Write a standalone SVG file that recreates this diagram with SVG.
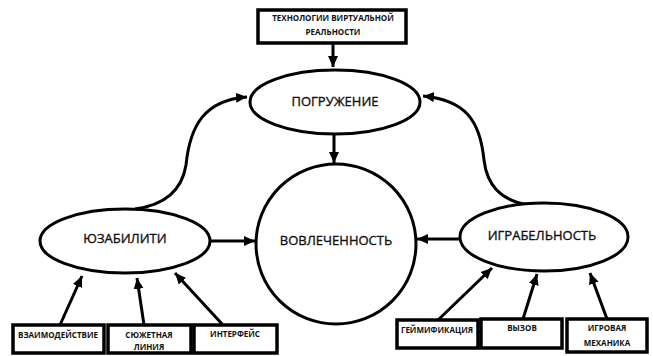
<svg xmlns="http://www.w3.org/2000/svg" width="653" height="356" viewBox="0 0 653 356">
<style>
.n{fill:#fff;stroke:#000;stroke-width:3}
.b{fill:#fff;stroke:#000;stroke-width:3.5}
.t{font-family:"Open Sans","Liberation Sans",sans-serif;font-size:13px;fill:#111;stroke:#111;stroke-width:0.35;text-anchor:middle}
.s{font-family:"Open Sans","Liberation Sans",sans-serif;font-size:8px;font-weight:bold;fill:#111;text-anchor:middle}
.c{fill:none;stroke:#000;stroke-width:3;marker-end:url(#ah)}
</style>
<defs>
<marker id="ah" markerUnits="userSpaceOnUse" markerWidth="12" markerHeight="12" viewBox="0 0 12 12" refX="11" refY="6" orient="auto">
<path d="M0,1 L11,6 L0,11 Z" fill="#000"/>
</marker>
</defs>
<rect width="653" height="356" fill="#fff"/>
<g id="connectors">
<path class="c" d="M333,43 L333,67"/>
<path class="c" d="M334,134 L334,163"/>
<path class="c" d="M210,241 L255,241"/>
<path class="c" d="M460,239 L417,239"/>
<path class="c" d="M135,209 C165,205 182,190 186,165 C190,125 205,100 247,97"/>
<path class="c" d="M528,205 C500,200 487,185 484,160 C480,120 465,100 423,96"/>
<path class="c" d="M60,325 L82,276"/>
<path class="c" d="M144,325 L137,278"/>
<path class="c" d="M223,325 L175,273"/>
<path class="c" d="M437,321 L492,268"/>
<path class="c" d="M523,319 L537,274"/>
<path class="c" d="M607,319 L590,273"/>
</g>
<g id="vr">
<rect class="b" x="258" y="10" width="148" height="33"/>
<text class="s" x="333" y="21">ТЕХНОЛОГИИ ВИРТУАЛЬНОЙ</text>
<text class="s" x="333" y="35">РЕАЛЬНОСТИ</text>
</g>
<g id="immersion">
<ellipse class="n" cx="335" cy="102" rx="85" ry="32"/>
<text class="t" x="335" y="106">ПОГРУЖЕНИЕ</text>
</g>
<g id="engagement">
<circle class="n" cx="336" cy="244" r="80"/>
<text class="t" x="336" y="245">ВОВЛЕЧЕННОСТЬ</text>
</g>
<g id="usability">
<ellipse class="n" cx="125" cy="241" rx="85" ry="32"/>
<text class="t" x="125" y="243">ЮЗАБИЛИТИ</text>
</g>
<g id="playability">
<ellipse class="n" cx="544" cy="237" rx="84" ry="34"/>
<text class="t" x="542" y="240">ИГРАБЕЛЬНОСТЬ</text>
</g>
<g id="interaction">
<rect class="b" x="13" y="325" width="91" height="28"/>
<text class="s" x="58" y="338">ВЗАИМОДЕЙСТВИЕ</text>
</g>
<g id="storyline">
<rect class="b" x="108" y="325" width="83" height="28"/>
<text class="s" x="149" y="338">СЮЖЕТНАЯ</text>
<text class="s" x="149" y="350">ЛИНИЯ</text>
</g>
<g id="interface">
<rect class="b" x="194" y="325" width="83" height="28"/>
<text class="s" x="235" y="337">ИНТЕРФЕЙС</text>
</g>
<g id="gamification">
<rect class="b" x="397" y="320" width="81" height="28"/>
<text class="s" x="437" y="333">ГЕЙМИФИКАЦИЯ</text>
</g>
<g id="challenge">
<rect class="b" x="481" y="319" width="81" height="29"/>
<text class="s" x="522" y="331">ВЫЗОВ</text>
</g>
<g id="mechanics">
<rect class="b" x="567" y="319" width="80" height="33"/>
<text class="s" x="607" y="331">ИГРОВАЯ</text>
<text class="s" x="607" y="346">МЕХАНИКА</text>
</g>
</svg>
